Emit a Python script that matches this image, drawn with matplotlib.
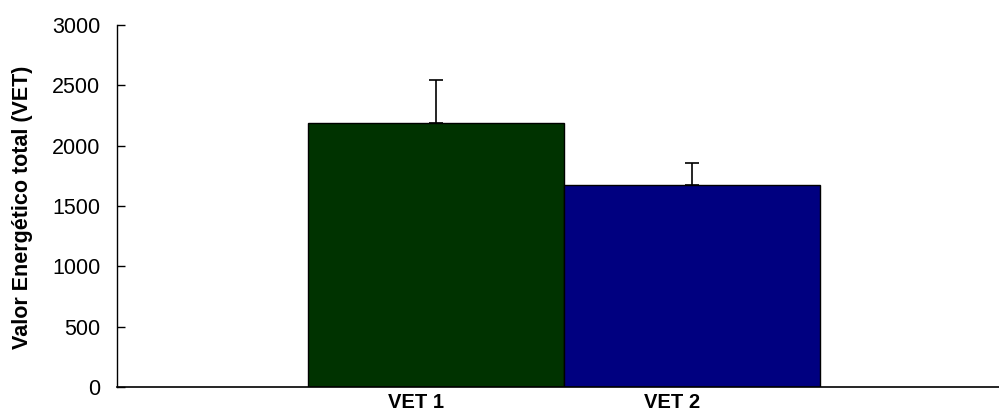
import matplotlib
matplotlib.use("Agg")
import matplotlib.pyplot as plt
import matplotlib.transforms as mtransforms
import numpy as np

plt.rcParams['font.family'] = ['Liberation Sans', 'DejaVu Sans']

categories = ["VET 1", "VET 2"]
vet_means = [2188, 1675]
vet_sd = [360, 180]
bar_colors = ["#003300", "#000080"]

fig = plt.figure(figsize=(9.99, 4.08), dpi=100)
ax = fig.add_axes([117 / 999, 1 - 387 / 408, 882 / 999, 362 / 408])

x = np.arange(len(categories))
ax.bar(x, vet_means, width=1.0, color=bar_colors, edgecolor="black", linewidth=1.0, zorder=2)
ax.errorbar(x, vet_means, yerr=[np.zeros(len(vet_sd)), vet_sd], fmt="none",
            ecolor="black", elinewidth=1.2, capsize=4.7, capthick=1.2, zorder=3)

ax.set_xlim(-1.246, 2.199)
ax.set_ylim(0, 3000)
ax.set_yticks(np.arange(0, 3001, 500))
ax.tick_params(axis="y", direction="in", length=6, width=1, pad=12, labelsize=15.5)
ax.set_xticks(x)
ax.set_xticklabels(categories, fontsize=14.5, fontweight="bold")
ax.tick_params(axis="x", length=0, pad=4)

# shift category labels slightly left of the bar centres
offset = mtransforms.ScaledTranslation(-20 / 100, 0, fig.dpi_scale_trans)
for lbl in ax.get_xticklabels():
    lbl.set_transform(lbl.get_transform() + offset)

ax.spines["top"].set_visible(False)
ax.spines["right"].set_visible(False)
ax.spines["left"].set_linewidth(1.0)
ax.spines["bottom"].set_linewidth(1.2)

ax.set_ylabel("Valor Energético total (VET)", fontsize=15.5, fontweight="bold")
ax.yaxis.set_label_coords(33 / 999, 1 - 207 / 408, transform=fig.transFigure)

fig.savefig("out.png", dpi=100)
